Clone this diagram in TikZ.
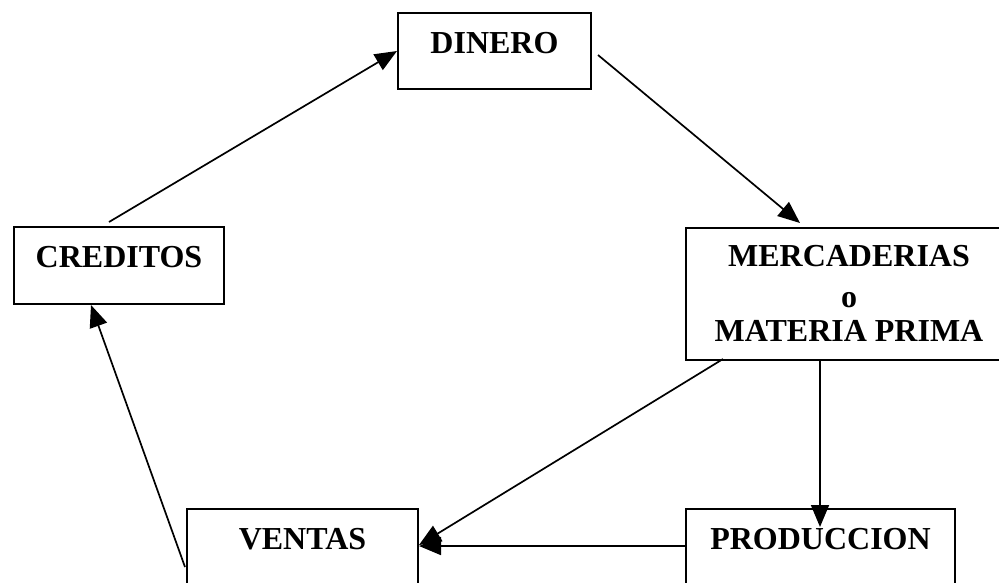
\documentclass[tikz,border=0pt]{standalone}
\usepackage{fontspec}
\setmainfont{Liberation Serif}
\usetikzlibrary{arrows.meta,calc}
\tikzset{
  box/.style={draw=black, line width=2pt, rectangle, inner sep=0pt, anchor=north west},
  lbl/.style={font=\bfseries\fontsize{32}{38}\selectfont, anchor=base, inner sep=0pt},
  arr/.style={draw=black, line width=1.7pt, -{Triangle[length=22pt,width=18pt]}}
}
\begin{document}
\begin{tikzpicture}[x=1pt,y=-1pt]
\useasboundingbox (0,0) rectangle (999,582);
\clip (0,0) rectangle (999,582);
\fill[white] (0,0) rectangle (999,582);
% boxes
\node[box, minimum width=193pt, minimum height=76pt] (d) at (397,12) {};
\node[box, minimum width=210pt, minimum height=77pt] (cr) at (13,226) {};
\node[box, minimum width=326pt, minimum height=132pt] (m) at (685,227) {};
\node[box, minimum width=231pt, minimum height=110pt] (v) at (186,508) {};
\node[box, minimum width=269pt, minimum height=110pt] (p) at (685,508) {};
% labels
\node[lbl] (dl) at ($(d.north)+(0,41)$) {DINERO};
\node[lbl] (cl) at ($(cr.north)+(0,41)$) {CREDITOS};
\node[lbl] (ml1) at ($(m.north)+(0,39)$) {MERCADERIAS};
\node[lbl] (ml2) at ($(m.north)+(0,80)$) {o};
\node[lbl] (ml3) at ($(m.north)+(0,114)$) {MATERIA PRIMA};
\node[lbl] (vl) at ($(v.north)+(0,41)$) {VENTAS};
\node[lbl] (pl) at ($(p.north)+(0,41)$) {PRODUCCION};
% connectors
\draw[arr] ($(cr.north west)+(96,-4)$) -- (d.west);
\draw[arr] ($(d.north east)+(6,43)$) -- ($(m.north west)+(115,-4)$);
\draw[arr] ($(v.north west)+(-1,59)$) -- ($(cr.south west)+(78,0)$);
\draw[arr] ($(m.south west)+(38,-2)$) -- ($(v.north east)+(0,37)$);
\draw[arr] ($(m.south west)+(135,-2)$) -- ($(p.north west)+(135,19)$);
\draw[arr] ($(p.north west)+(0,38)$) -- ($(v.north east)+(0,38)$);
\end{tikzpicture}
\end{document}
